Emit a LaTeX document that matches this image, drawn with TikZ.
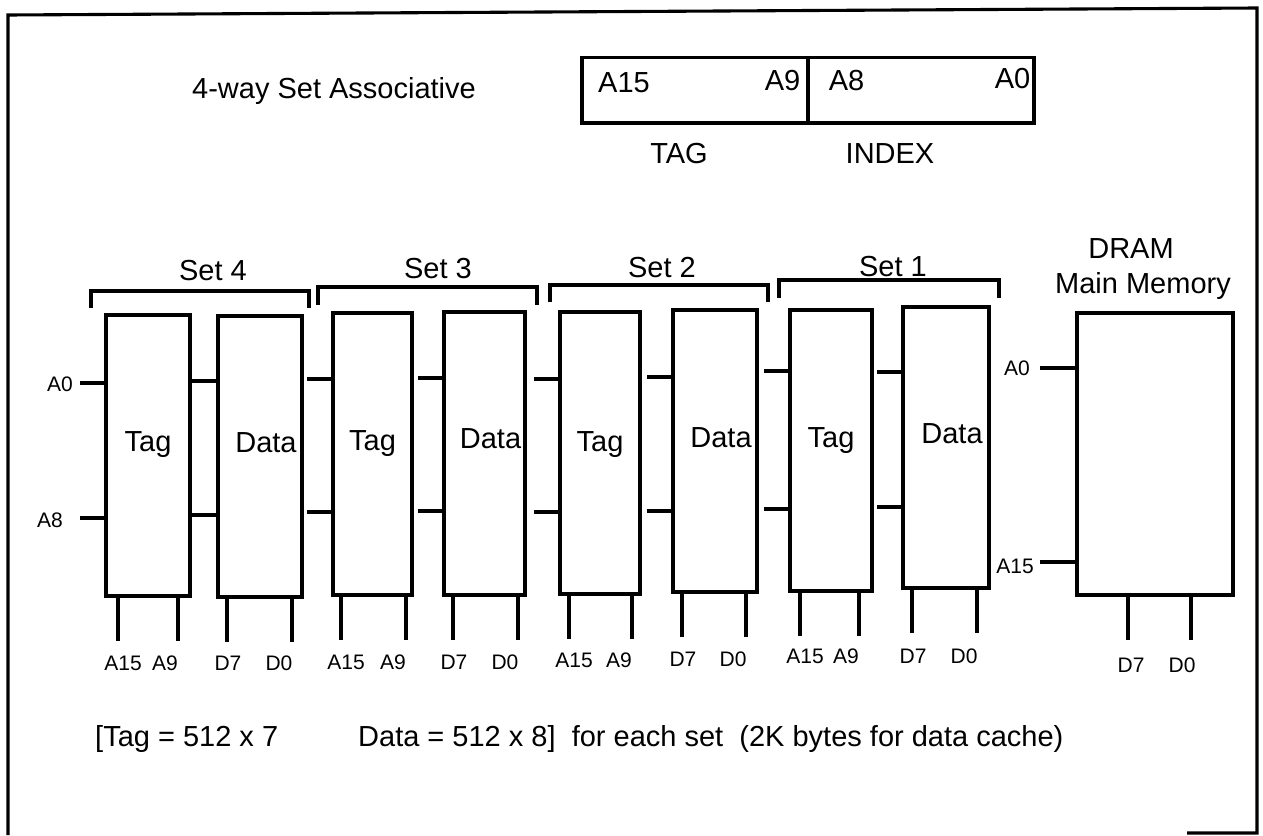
\documentclass[tikz,border=0pt]{standalone}
\usepackage{fontspec}
\setmainfont{Liberation Sans}
\begin{document}
\begin{tikzpicture}[x=1pt,y=-1pt,
  box/.style={draw, line width=3.1pt, inner sep=0pt},
  wire/.style={line width=3.1pt},
  maintxt/.style={font=\fontsize{29}{34}\selectfont, inner sep=0pt, anchor=base},
  smalltxt/.style={font=\fontsize{21}{25}\selectfont, inner sep=0pt, anchor=base}]
\useasboundingbox (0,0) rectangle (1263,835);
% frame
\draw[wire] (1187,833) -- (1257,833) -- (1257,8) -- (8,15) -- (8,835);
% title
\node[maintxt] (title) at (334,98) {4-way Set Associative};
% address box
\node[box, minimum width=452pt, minimum height=65.5pt] (addr) at (808,90.25) {};
\draw[wire] (addr.north -| 808,0) -- (addr.south -| 808,0);
\node[maintxt, anchor=base west] (a15) at (598,92) {A15};
\node[maintxt] (a9) at (782.5,90) {A9};
\node[maintxt] (a8) at (846.5,90) {A8};
\node[maintxt] (a0) at (1012.5,88) {A0};
\node[maintxt] (tagl) at (679,163) {TAG};
\node[maintxt] (idxl) at (890,163) {INDEX};
% sets
\foreach \s/\x/\b/\xa/\xb/\yt/\yb in {4/213/280/91/309/291/308, 3/438/278/318/537/287/305, 2/662/277/550/768/285/302, 1/893/276/779/999/280/298}{
  \node[maintxt] (set\s) at (\x,\b) {Set \s};
  \draw[wire] (\xa,\yb) |- (\xb,\yt) -- (\xb,\yb);
}
% memory blocks
\foreach \n/\xa/\xb/\yt/\yb/\sa/\sb/\pa/\pb/\tb/\lb/\word/\dx/\la/\lc/\oa/\ob in {
  t4/106/190/315/596/383/518/118/178/451/670/Tag/0/A15/A9/5/-13,
  d4/218/302/316/597/381/515/227/292/452/670/Data/6/D7/D0/1/-13,
  t3/333/412/313/595/379/512/341/406/450/669/Tag/0/A15/A9/5/-13,
  d3/444/525/312/595/378/511/453/518/448/669/Data/6/D7/D0/1/-13,
  t2/560/640/312/594/379/512/569/632/451/667/Tag/0/A15/A9/5/-13,
  d2/673/757/310/592/377/511/682/746/447/666/Data/6/D7/D0/1/-13,
  t1/790/872/310/591/371/509/800/859/447/663/Tag/0/A15/A9/5/-13,
  d1/903/989/307/588/372/507/912/977/443/663/Data/6/D7/D0/1/-13}{
  \node[box, minimum width={(\xb-\xa)*1pt}, minimum height={(\yb-\yt)*1pt}] (\n) at ({(\xa+\xb)/2},{(\yt+\yb)/2}) {};
  \node[maintxt] (\n txt) at ({(\xa+\xb)/2+\dx},\tb) {\word};
  \draw[wire] (\n.west |- 0,\sa) -- ++(-24,0);
  \draw[wire] (\n.west |- 0,\sb) -- ++(-24,0);
  \draw[wire] (\n.south -| \pa,0) -- ++(0,43);
  \draw[wire] (\n.south -| \pb,0) -- ++(0,43);
  \node[smalltxt] (\n la) at ({\pa+\oa},\lb) {\la};
  \node[smalltxt] (\n lb) at ({\pb+\ob},\lb) {\lc};
}
\node[smalltxt] (lA0) at (60,391) {A0};
\node[smalltxt] (lA8) at (50,527) {A8};
% DRAM
\node[maintxt] (dramt) at (1131,258) {DRAM};
\node[maintxt] (mmt) at (1143,293) {Main Memory};
\node[box, minimum width=156pt, minimum height=282pt] (dram) at (1155,454) {};
\draw[wire] (dram.west |- 0,368) -- ++(-35,0);
\draw[wire] (dram.west |- 0,562) -- ++(-35,0);
\node[smalltxt] (mA0) at (1017,375) {A0};
\node[smalltxt] (mA15) at (1015,573) {A15};
\draw[wire] (dram.south -| 1128,0) -- ++(0,43);
\draw[wire] (dram.south -| 1191,0) -- ++(0,43);
\node[smalltxt] (mD7) at (1131,672) {D7};
\node[smalltxt] (mD0) at (1182,672) {D0};
% bottom text
\node[maintxt, anchor=base west] (note1) at (95,746) {[Tag = 512 x 7};
\node[maintxt, anchor=base west] (note2) at (358,746) {Data = 512 x 8]\ \ for each set\ \ (2K bytes for data cache)};
\end{tikzpicture}
\end{document}
